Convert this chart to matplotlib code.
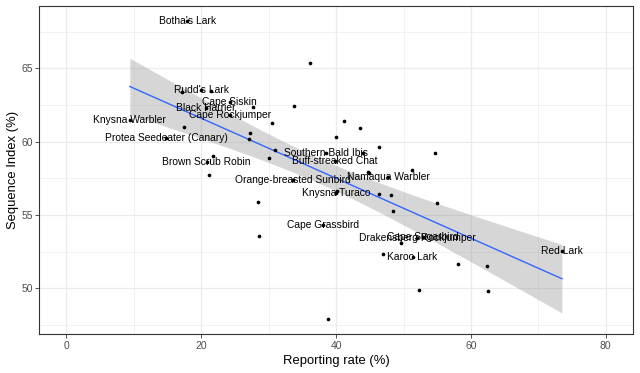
import numpy as np
import matplotlib
matplotlib.use("Agg")
import matplotlib.pyplot as plt
from matplotlib.ticker import MultipleLocator

# Labelled species
label_names = ["Botha's Lark", "Rudd's Lark", "Cape Siskin", "Black Harrier",
               "Cape Rockjumper", "Knysna Warbler", "Protea Seedeater (Canary)",
               "Brown Scrub Robin", "Southern Bald Ibis", "Buff-streaked Chat",
               "Orange-breasted Sunbird", "Namaqua Warbler", "Knysna Turaco",
               "Cape Grassbird", "Drakensberg Rockjumper", "Cape Sugarbird",
               "Karoo Lark", "Red Lark"]
label_x = [17.9, 20.0, 24.2, 20.7, 24.2, 9.4, 14.8, 20.8, 38.5, 39.8,
           33.6, 47.75, 40.0, 38.1, 52.0, 52.9, 51.35, 73.5]
label_y = [68.2, 63.5, 62.7, 62.3, 61.85, 61.45, 60.25, 58.6, 59.25, 58.65,
           57.4, 57.6, 56.5, 54.35, 53.45, 53.5, 52.15, 52.55]

# Unlabelled species
other_x = [17.1, 21.4, 27.65, 33.8, 30.5, 17.5, 27.3, 27.1, 31.0, 30.1,
           21.7, 21.2, 36.1, 41.1, 43.6, 40.0, 46.3, 54.7, 44.0, 44.7,
           44.9, 51.2, 46.4, 48.1, 54.9, 48.4, 28.4, 28.5, 38.8, 49.6,
           46.9, 58.1, 62.4, 62.5, 52.35, 40.2]
other_y = [63.4, 63.45, 62.35, 62.4, 61.3, 61.0, 60.6, 60.2, 59.4, 58.9,
           59.05, 57.75, 65.35, 61.4, 60.95, 60.35, 59.65, 59.25, 59.25, 57.95,
           57.85, 58.05, 56.45, 56.35, 55.8, 55.25, 55.9, 53.55, 47.9, 53.1,
           52.35, 51.65, 51.55, 49.85, 49.9, 56.65]

x_ticks = [0, 20, 40, 60, 80]
y_ticks = [50, 55, 60, 65]

x_all = np.array(label_x + other_x)
y_all = np.array(label_y + other_y)

# linear fit with 95% CI (as geom_smooth(method='lm'))
n = len(x_all)
X = np.column_stack([np.ones(n), x_all])
beta, *_ = np.linalg.lstsq(X, y_all, rcond=None)
resid = y_all - X @ beta
s2 = resid @ resid / (n - 2)
XtX_inv = np.linalg.inv(X.T @ X)
xs = np.linspace(x_all.min(), x_all.max(), 80)
Xs = np.column_stack([np.ones_like(xs), xs])
fit = Xs @ beta
se = np.sqrt(np.einsum('ij,jk,ik->i', Xs, XtX_inv, Xs) * s2)
tval = 2.0  # approx t(0.975, df~52)
lo, hi = fit - tval * se, fit + tval * se

fig = plt.figure(figsize=(6.4, 3.73), dpi=100)
ax = fig.add_axes([0.0617, 0.1046, 0.9886 - 0.0617, 0.9839 - 0.1046])
ax.set_facecolor("white")

ax.set_xlim(-4, 84)
ax.set_ylim(46.89, 69.25)
ax.set_xticks(x_ticks)
ax.set_yticks(y_ticks)
ax.xaxis.set_minor_locator(MultipleLocator(10))
ax.yaxis.set_minor_locator(MultipleLocator(2.5))
ax.grid(which="major", color="#EBEBEB", lw=0.9, zorder=0)
ax.grid(which="minor", color="#EBEBEB", lw=0.45, zorder=0)
ax.tick_params(which="minor", length=0)
ax.tick_params(which="major", length=2.8, width=0.6, color="#333333",
               labelsize=7.5, labelcolor="#4D4D4D", pad=2)
ax.set_axisbelow(True)
for sp in ax.spines.values():
    sp.set_color("#333333")
    sp.set_linewidth(0.8)

ax.fill_between(xs, lo, hi, color="#999999", alpha=0.4, lw=0, zorder=2)
ax.plot(xs, fit, color="#3366FF", lw=1.0, zorder=3)
ax.scatter(x_all, y_all, s=7, color="black", zorder=4, linewidths=0)

for name, xx, yy in zip(label_names, label_x, label_y):
    ax.text(xx, yy, name, ha="center", va="center", fontsize=7.4,
            family="Liberation Sans", color="black", zorder=5)

ax.set_xlabel("Reporting rate (%)", fontsize=9.4, family="Liberation Sans", labelpad=3)
ax.set_ylabel("Sequence Index (%)", fontsize=9.4, family="Liberation Sans", labelpad=2)
for lab in ax.get_xticklabels() + ax.get_yticklabels():
    lab.set_family("Liberation Sans")

fig.savefig("out.png", dpi=100)
